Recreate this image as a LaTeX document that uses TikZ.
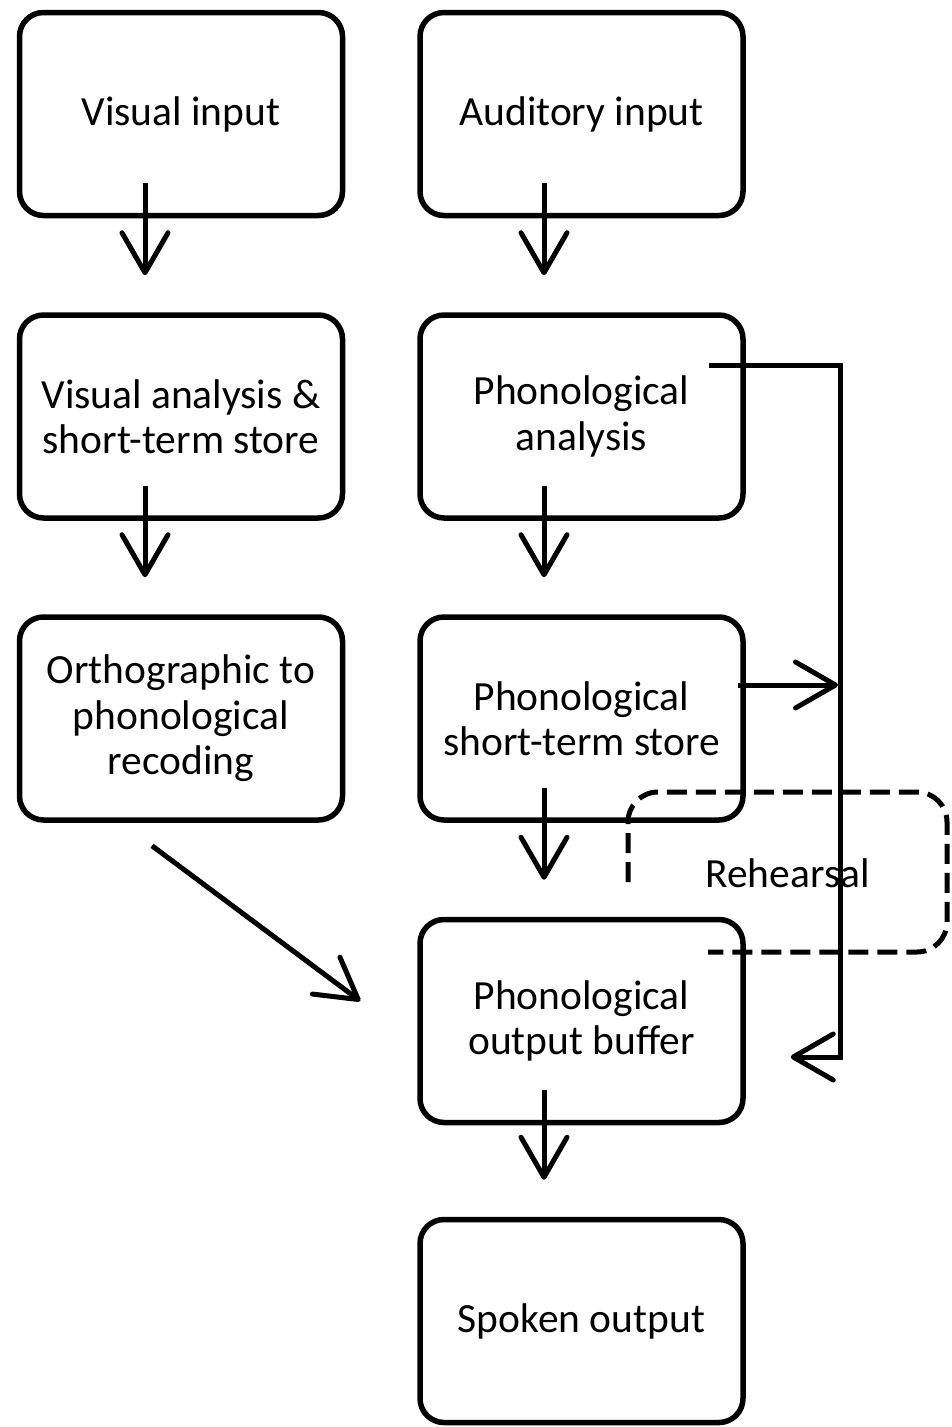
\documentclass[tikz,border=0pt]{standalone}
\usepackage{fontspec}
\setmainfont{Carlito}
\usetikzlibrary{arrows.meta,calc}
\begin{document}
\begin{tikzpicture}[x=1pt,y=-1pt,
  box/.style={draw=black,line width=5.5pt,rounded corners=24pt,minimum width=323pt,minimum height=203pt,
    align=center,inner sep=0pt,font=\fontsize{41.5}{45.5}\selectfont},
  arr/.style={line width=5pt,-{Straight Barb[length=40pt,width=46pt,line cap=round,round]}},
  dsh/.style={line width=5pt,dash pattern=on 20pt off 9pt,rounded corners=30pt},
  lbl/.style={font=\fontsize{41.5}{45.5}\selectfont,inner sep=0pt}]
\useasboundingbox (0,0) rectangle (951,1427);
\fill[white] (0,0) rectangle (951,1427);
% boxes
\node[box] (vi) at (181,114) {Visual input};
\node[box] (ai) at (581.5,114) {Auditory input};
\node[box] (va) at (181,416.5) {Visual analysis \&\\short-term store};
\node[box] (pa) at (581.5,416.5) {Phonological\\analysis};
\node[box] (orth) at (181,718.5) {Orthographic to\\phonological\\recoding};
\node[box] (pst) at (581.5,718.5) {Phonological\\short-term store};
\node[box] (pob) at (581.5,1021) {Phonological\\output buffer};
\node[box] (so) at (581.5,1321) {Spoken output};
% vertical arrows
\draw[arr] ([xshift=-36pt,yshift=35pt]vi.south) -- ([xshift=-36pt,yshift=37pt]va.north);
\draw[arr] ([xshift=-37.5pt,yshift=35pt]ai.south) -- ([xshift=-37.5pt,yshift=37pt]pa.north);
\draw[arr] ([xshift=-36pt,yshift=35pt]va.south) -- ([xshift=-36pt,yshift=37pt]orth.north);
\draw[arr] ([xshift=-37.5pt,yshift=35pt]pa.south) -- ([xshift=-37.5pt,yshift=37pt]pst.north);
\draw[arr] ([xshift=-37.5pt,yshift=35pt]pst.south) -- ([xshift=-37.5pt,yshift=37pt]pob.north);
\draw[arr] ([xshift=-37.5pt,yshift=35pt]pob.south) -- ([xshift=-37.5pt,yshift=37pt]so.north);
% diagonal arrow
\draw[arr] ([xshift=-29pt,yshift=-23pt]orth.south) -- ([xshift=-57pt,yshift=20pt]pob.west);
% feedback rail
\coordinate (r1) at (840,365);
\coordinate (r2) at (840,1057);
\coordinate (r3) at (838,685);
\draw[arr,line join=miter] ([xshift=-37pt,yshift=51.5pt]pa.east) -- (r1) -- (r2) -- ([xshift=45pt,yshift=-36pt]pob.east);
\draw[arr] ([xshift=-8pt,yshift=33.5pt]pst.east) -- (r3);
% rehearsal loop
\coordinate (d1) at (628,882);
\coordinate (d2) at (628,792);
\coordinate (d3) at (947,792);
\coordinate (d4) at (947,952);
\coordinate (d5) at (708,952);
\draw[dsh] (d1) -- (d2) -- (d3) -- (d4) -- (d5);
\node[lbl] (reh) at (787.5,873) {Rehearsal};
\end{tikzpicture}
\end{document}
